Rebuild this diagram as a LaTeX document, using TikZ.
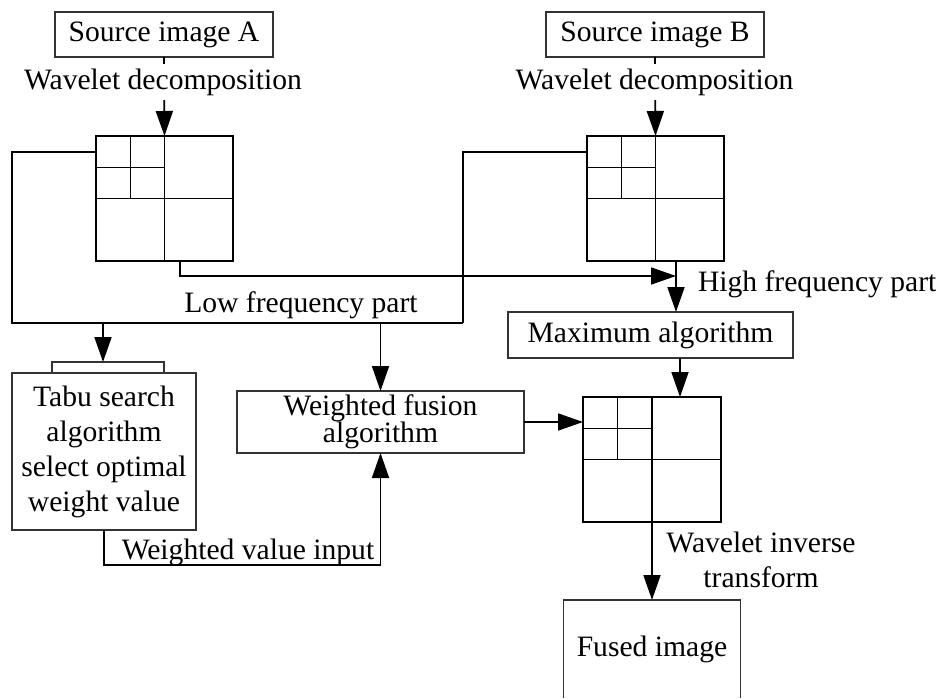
\documentclass[tikz,border=0pt]{standalone}
\usepackage{fontspec}
\setmainfont{Liberation Serif}
\usetikzlibrary{arrows.meta,calc}
\begin{document}
\begin{tikzpicture}[x=1pt,y=-1pt,
  every node/.style={font=\fontsize{29.6}{35}\selectfont, inner sep=0pt, outer sep=0pt},
  box/.style={draw=black!80, line width=1.1pt},
  wgrid/.style={draw, line width=1.2pt, minimum width=137pt, minimum height=125pt},
  conn/.style={line width=1.8pt},
  arr/.style={conn, -{Triangle[length=25pt,width=17pt]}},
  lbl/.style={fill=white, inner ysep=4.5pt, inner xsep=1pt}
]
\useasboundingbox (0,0) rectangle (941,698);

% boxes
\node[box, minimum width=218pt, minimum height=45pt] (srcA) at (164,34.5) {Source image A};
\node[box, minimum width=218pt, minimum height=45pt] (srcB) at (655,34.5) {Source image B};
\node[wgrid] (gA) at (164.5,198.5) {};
\node[wgrid] (gB) at (655.5,198.5) {};
\node[wgrid, minimum width=138pt] (gC) at (652,459.5) {};
\node[box, minimum width=184pt, minimum height=157pt, align=center] (tabu) at (104,451.5)
  {Tabu search\\algorithm\\select optimal\\weight value};
\node[box, minimum width=287pt, minimum height=62pt, align=center,
  font=\fontsize{29.6}{27}\selectfont] (wf) at (380.5,422) {Weighted fusion\\algorithm};
\node[box, minimum width=285pt, minimum height=46pt] (max) at (650.5,335) {Maximum algorithm};
\node[minimum width=177pt, minimum height=98pt] (fused) at (652,649) {Fused image};
\draw[box] (fused.south west) -- (fused.north west) -- (fused.north east) -- (fused.south east);

% grid subdivisions
\foreach \g in {gA,gB,gC}{
  \draw[line width=1.2pt] (\g.north) -- (\g.south) (\g.west) -- (\g.east)
    ($(\g.north west)!0.25!(\g.north east)$) -- ($(\g.west)!0.5!(\g.center)$)
    ($(\g.north west)!0.5!(\g.west)$) -- ($(\g.north)!0.5!(\g.center)$);
}

% wavelet decomposition arrows
\draw[arr] (srcA.south) -- (gA.north);
\draw[arr] (srcB.south) -- (gB.north);
\node[lbl] (wdA) at (163,82) {Wavelet decomposition};
\node[lbl] (wdB) at (654.5,82) {Wavelet decomposition};

% low frequency bus
\coordinate (busL) at (12,323);
\coordinate (busR) at (463,323);
\draw[conn] ($(gA.north west)!0.125!(gA.south west)$) -| (busL) -- (busR);
\draw[conn] ($(gB.north west)!0.125!(gB.south west)$) -| (busR);
\node (lfp) at (301,305) {Low frequency part};

% bracket on tabu box
\coordinate (brkL) at (52,373);
\coordinate (brkR) at (164,373);
\coordinate (brkT) at (103,362);
\draw[box] (brkL) |- (brkR |- brkT) -- (brkR);
\draw[arr] (brkT |- busL) -- (brkT);
\draw[arr] (wf.north |- busL) -- (wf.north);

% high frequency
\coordinate (hfJ) at (676,276);
\draw[arr] ($(gA.south)!0.226!(gA.south east)$) |- (hfJ);
\draw[arr] (hfJ |- gB.south) -- (hfJ |- max.north);
\node[anchor=west] (hfp) at (698,284) {High frequency part};

% maximum to fused grid
\coordinate (mx) at (680,0);
\draw[arr] (mx |- max.south) -- (mx |- gC.north);

% weighted fusion to fused grid
\draw[arr] (wf.east) -- (wf.east -| gC.west);

% tabu to weighted fusion
\draw[arr] (tabu.south) -- ++(0,35) -| (wf.south);
\node (wvi) at (248,552) {Weighted value input};

% inverse transform
\draw[arr] (gC.south) -- (fused.north);
\node[align=center] (wit) at (761,560) {Wavelet inverse\\transform};
\end{tikzpicture}
\end{document}
